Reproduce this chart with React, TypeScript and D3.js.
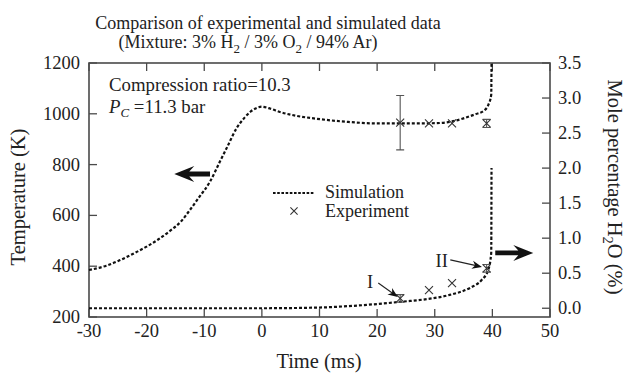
import * as d3 from "d3";
import { useEffect, useRef } from "react";

// simulated temperature (K) vs time (ms)
const simTime = [-30, -27, -24.6, -22, -20, -18, -16, -14, -12.5, -11, -9, -7.3, -6, -4.4, -3, -2, -1, 0, 1.5, 3, 6, 9, 15, 20, 25, 30, 33, 35, 37, 38.5, 39.3, 39.8, 39.85];
const simTemp = [385, 402, 424, 453, 477, 505, 538, 577, 621, 668, 733, 811, 870, 943, 985, 1008, 1022, 1028, 1020, 1008, 992, 982, 968, 962, 962, 963, 970, 982, 998, 1012, 1035, 1075, 1200];

// simulated H2O mole percentage vs time (ms)
const h2oTime = [-30, -10, 0, 10, 15, 20, 24.5, 28.6, 32.6, 36.1, 38.1, 39.3, 39.8, 39.85];
const h2oSim = [0, 0, 0, 0.01, 0.03, 0.06, 0.095, 0.13, 0.19, 0.29, 0.4, 0.55, 0.79, 2.0];

// experiment
const expTime = [24, 29, 33, 39];
const expTemp = [965, 962, 962, 962];
const expTempErr = [107, 0, 0, 16];
const expH2O = [0.14, 0.26, 0.36, 0.57];
const expH2OErr = [0.055, 0, 0, 0.055];

const timeTicks = [-30, -20, -10, 0, 10, 20, 30, 40, 50];
const tempTicks = [200, 400, 600, 800, 1000, 1200];
const h2oTicks = [0, 0.5, 1, 1.5, 2, 2.5, 3, 3.5];

const FONT = "'Liberation Serif', 'Times New Roman', serif";
const INK = "#222";
const FRAME = "#4a4a4a";

const App = () => {
  const svgRef = useRef<SVGSVGElement>(null);

  const renderSVG = () => {
    const dims = {
      width: 627,
      height: 373,
      margin: { top: 63, left: 89, right: 77, bottom: 56 },
      tick: 8,
    };
    const innerW = dims.width - dims.margin.left - dims.margin.right;
    const innerH = dims.height - dims.margin.top - dims.margin.bottom;

    const x = d3.scaleLinear([-30, 50], [0, innerW]);
    const yT = d3.scaleLinear([200, 1200], [innerH, 0]);
    const yW = d3.scaleLinear([-0.125, 3.5], [innerH, 0]);

    svgRef.current!.innerHTML = "";
    const root = d3
      .select(svgRef.current)
      .attr("width", dims.width)
      .attr("height", dims.height)
      .attr("viewBox", [0, 0, dims.width, dims.height].join(" "))
      .attr("font-family", FONT);

    // title
    root.append("text")
      .attr("x", 268).attr("y", 29)
      .attr("text-anchor", "middle").attr("font-size", 18).attr("fill", INK)
      .text("Comparison of experimental and simulated data");
    const t2 = root.append("text")
      .attr("x", 248).attr("y", 48)
      .attr("text-anchor", "middle").attr("font-size", 18).attr("fill", INK);
    t2.append("tspan").text("(Mixture: 3% H");
    t2.append("tspan").attr("dy", 5).attr("font-size", 13).text("2");
    t2.append("tspan").attr("dy", -5).text(" / 3% O");
    t2.append("tspan").attr("dy", 5).attr("font-size", 13).text("2");
    t2.append("tspan").attr("dy", -5).text(" / 94% Ar)");

    const svg = root.append("g")
      .attr("transform", `translate(${dims.margin.left}, ${dims.margin.top})`);

    // frame
    svg.append("rect")
      .attr("width", innerW).attr("height", innerH)
      .attr("fill", "none").attr("stroke", FRAME).attr("stroke-width", 1.6);

    // ticks (inward)
    const tk = svg.append("g").attr("stroke", FRAME).attr("stroke-width", 1.3);
    timeTicks.forEach((v) => {
      tk.append("line").attr("x1", x(v)).attr("x2", x(v)).attr("y1", innerH).attr("y2", innerH - dims.tick);
      tk.append("line").attr("x1", x(v)).attr("x2", x(v)).attr("y1", 0).attr("y2", dims.tick);
    });
    tempTicks.forEach((v) => {
      tk.append("line").attr("x1", 0).attr("x2", dims.tick).attr("y1", yT(v)).attr("y2", yT(v));
    });
    h2oTicks.forEach((v) => {
      tk.append("line").attr("x1", innerW).attr("x2", innerW - dims.tick).attr("y1", yW(v)).attr("y2", yW(v));
    });

    // tick labels
    const lab = svg.append("g").attr("font-size", 18.5).attr("fill", INK);
    timeTicks.forEach((v) => {
      lab.append("text").attr("x", x(v)).attr("y", innerH + 20)
        .attr("text-anchor", "middle").text(String(v));
    });
    tempTicks.forEach((v) => {
      lab.append("text").attr("x", -9).attr("y", yT(v))
        .attr("text-anchor", "end").attr("dominant-baseline", "central").text(v);
    });
    h2oTicks.forEach((v) => {
      lab.append("text").attr("x", innerW + 8).attr("y", yW(v))
        .attr("text-anchor", "start").attr("dominant-baseline", "central").text(d3.format(".1f")(v));
    });

    // axis titles
    root.append("text")
      .attr("transform", `translate(25, 197) rotate(-90)`)
      .attr("text-anchor", "middle").attr("font-size", 20.5).attr("fill", INK)
      .text("Temperature (K)");
    const rt = root.append("text")
      .attr("transform", `translate(608, 187) rotate(90)`)
      .attr("text-anchor", "middle").attr("font-size", 20.5).attr("fill", INK);
    rt.append("tspan").text("Mole percentage H");
    rt.append("tspan").attr("dy", 5).attr("font-size", 14.5).text("2");
    rt.append("tspan").attr("dy", -5).text("O (%)");
    root.append("text")
      .attr("x", 319).attr("y", 368)
      .attr("text-anchor", "middle").attr("font-size", 20.5).attr("fill", INK)
      .text("Time (ms)");

    // simulation curves
    const dash = "3,2";
    const tempLine = d3.line<number>()
      .x((d, i) => x(simTime[i]))
      .y((d) => yT(d))
      .curve(d3.curveMonotoneX);
    svg.append("path")
      .attr("d", tempLine(simTemp))
      .attr("fill", "none").attr("stroke", "#111").attr("stroke-width", 2.2)
      .attr("stroke-dasharray", dash);

    const h2oLine = d3.line<number>()
      .x((d, i) => x(h2oTime[i]))
      .y((d) => yW(d))
      .curve(d3.curveMonotoneX);
    svg.append("path")
      .attr("d", h2oLine(h2oSim))
      .attr("fill", "none").attr("stroke", "#111").attr("stroke-width", 2.2)
      .attr("stroke-dasharray", dash);

    // experiment markers
    const cross = (g, cx, cy, s = 4) => {
      g.append("path")
        .attr("d", `M${cx - s},${cy - s}L${cx + s},${cy + s}M${cx - s},${cy + s}L${cx + s},${cy - s}`)
        .attr("stroke", "#333").attr("stroke-width", 1.1).attr("fill", "none");
    };
    const errBar = (g, cx, y1, y2, cap = 4) => {
      g.append("path")
        .attr("d", `M${cx},${y1}L${cx},${y2}M${cx - cap},${y1}L${cx + cap},${y1}M${cx - cap},${y2}L${cx + cap},${y2}`)
        .attr("stroke", "#555").attr("stroke-width", 1.1).attr("fill", "none");
    };
    const expG = svg.append("g");
    expTime.forEach((t, i) => {
      if (expTempErr[i] > 0) errBar(expG, x(t), yT(expTemp[i] + expTempErr[i]), yT(expTemp[i] - expTempErr[i]));
      cross(expG, x(t), yT(expTemp[i]));
      if (expH2OErr[i] > 0) errBar(expG, x(t), yW(expH2O[i] + expH2OErr[i]), yW(expH2O[i] - expH2OErr[i]));
      cross(expG, x(t), yW(expH2O[i]));
    });

    // annotation text
    root.append("text")
      .attr("x", 109).attr("y", 91)
      .attr("font-size", 18.8).attr("fill", INK)
      .text("Compression ratio=10.3");
    const pc = root.append("text")
      .attr("x", 109).attr("y", 113)
      .attr("font-size", 18.8).attr("fill", INK);
    pc.append("tspan").attr("font-style", "italic").text("P");
    pc.append("tspan").attr("dy", 4).attr("font-size", 13).attr("font-style", "italic").text("C");
    pc.append("tspan").attr("dy", -4).text(" =11.3 bar");

    // legend
    const lg = root.append("g").attr("font-size", 18).attr("fill", INK);
    lg.append("line").attr("x1", 273).attr("x2", 314).attr("y1", 193).attr("y2", 193)
      .attr("stroke", "#111").attr("stroke-width", 2).attr("stroke-dasharray", "2.6,1.6");
    lg.append("text").attr("x", 325).attr("y", 198).text("Simulation");
    cross(lg, 294, 211, 3.6);
    lg.append("text").attr("x", 325).attr("y", 217).text("Experiment");

    // big direction arrows
    const bigArrow = (x1, y1, x2, y2) => {
      const len = Math.hypot(x2 - x1, y2 - y1);
      const ang = (Math.atan2(y2 - y1, x2 - x1) * 180) / Math.PI;
      const hl = 20, hw = 8, notch = 5, sw = 2.4;
      svg.append("path")
        .attr("transform", `translate(${x1},${y1}) rotate(${ang})`)
        .attr("d", `M0,${-sw}L${len - hl + notch},${-sw}L${len - hl},${-hw}L${len},0L${len - hl},${hw}L${len - hl + notch},${sw}L0,${sw}Z`)
        .attr("fill", "#111");
    };
    bigArrow(x(-9), yT(763), x(-15.2), yT(763));
    bigArrow(x(40.5), yW(0.79), x(47.1), yW(0.79));

    // I / II labels with thin arrows
    const thinArrow = (x1, y1, x2, y2) => {
      const len = Math.hypot(x2 - x1, y2 - y1);
      const ang = (Math.atan2(y2 - y1, x2 - x1) * 180) / Math.PI;
      const g = svg.append("g").attr("transform", `translate(${x1},${y1}) rotate(${ang})`);
      g.append("line").attr("x1", 0).attr("x2", len - 6).attr("y1", 0).attr("y2", 0)
        .attr("stroke", "#222").attr("stroke-width", 1.1);
      g.append("path")
        .attr("d", `M${len},0L${len - 10},-4L${len - 7},0L${len - 10},4Z`)
        .attr("fill", "#111");
    };
    svg.append("text").attr("x", x(18.8)).attr("y", yW(0.38))
      .attr("text-anchor", "middle").attr("dominant-baseline", "central")
      .attr("font-size", 18.5).attr("fill", INK).text("I");
    thinArrow(x(20.2), yW(0.36), x(23.6), yW(0.16));
    svg.append("text").attr("x", x(31.2)).attr("y", yW(0.67))
      .attr("text-anchor", "middle").attr("dominant-baseline", "central")
      .attr("font-size", 18.5).attr("fill", INK).text("II");
    thinArrow(x(32.7), yW(0.69), x(38.2), yW(0.59));
  };

  useEffect(() => {
    document.body.style.margin = "0";
    renderSVG();
  });

  return <svg ref={svgRef} style={{ display: "block" }} />;
};

export default App;
